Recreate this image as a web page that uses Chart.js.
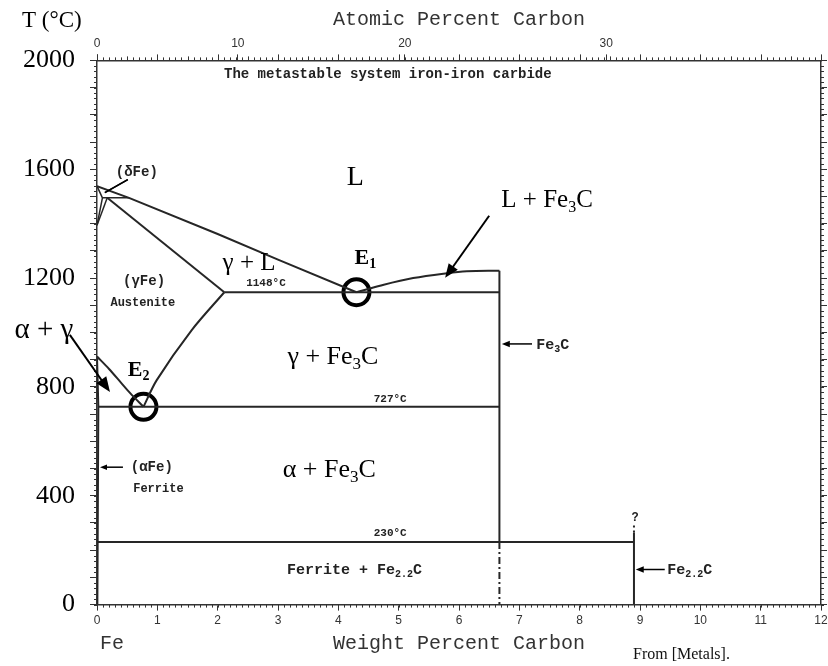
<!DOCTYPE html>
<html>
<head>
<meta charset="utf-8">
<script src="https://cdn.jsdelivr.net/npm/chart.js"></script>
<style>
  body { margin: 0; background: #fff; }
</style>
</head>
<body>
<canvas id="myChart" width="828" height="666"></canvas>
<script>
// Fe - Fe3C metastable phase diagram (wt% C vs temperature)
var weightTicks = [0, 1, 2, 3, 4, 5, 6, 7, 8, 9, 10, 11, 12];
var atomicTicks = [0, 10, 20, 30];
var tempTicks = [0, 400, 800, 1200, 1600, 2000];

// boundaries: carbon wt% and T in degC
var liquidusC = [0, 0.53, 2.0, 3.0, 4.3];
var liquidusT = [1538, 1495, 1362, 1268, 1148];
var cementiteLiqC = [4.3, 4.69, 5.24, 5.8, 6.13, 6.67];
var cementiteLiqT = [1148, 1172, 1200, 1218, 1225, 1227];
var solidusC = [0.17, 2.11];
var solidusT = [1495, 1148];
var acmC = [2.11, 1.57, 0.99, 0.77];
var acmT = [1148, 1009, 825, 727];
var a3C = [0, 0.2, 0.4, 0.55, 0.77];
var a3T = [912, 866, 815, 777, 727];
var alphaC = [0, 0.022, 0.006];
var alphaT = [912, 727, 0];
var deltaC = [0, 0.09, 0];
var deltaT = [1538, 1495, 1394];
var deltaGammaC = [0, 0.17];
var deltaGammaT = [1394, 1495];
var peritecticC = [0.09, 0.53];
var peritecticT = [1495, 1495];
var eutecticC = [2.11, 6.67];
var eutecticT = [1148, 1148];
var eutectoidC = [0.022, 6.67];
var eutectoidT = [727, 727];
var line230C = [0, 8.9];
var line230T = [230, 230];
var fe3cC = [6.67, 6.67];
var fe3cT = [1227, 230];
var fe3cLowC = [6.67, 6.67];
var fe3cLowT = [230, 0];
var fe22cC = [8.9, 8.9];
var fe22cT = [0, 265];
var fe22cTopC = [8.9, 8.9];
var fe22cTopT = [265, 292];
var eutecticPointsC = [4.3, 0.77];
var eutecticPointsT = [1148, 727];

function atToWt(a) {
  return a * 12.011 / (a * 12.011 + (100 - a) * 55.845) * 100;
}

function pts(xs, ys) {
  return xs.map(function (x, i) { return { x: x, y: ys[i] }; });
}

function line(xs, ys, extra) {
  var ds = {
    data: pts(xs, ys),
    showLine: true,
    borderColor: "#262626",
    borderWidth: 2,
    pointRadius: 0,
    fill: false,
    tension: 0
  };
  return Object.assign(ds, extra || {});
}

var SERIF = "'Liberation Serif', 'Times New Roman', serif";
var MONO = "'Liberation Mono', 'Courier New', monospace";
var SANS = "'Liberation Sans', Arial, sans-serif";

// text on the diagram: [parts, x(wt%), T, size, family, weight, align]
var labels = [
  [[["L", 0]], 4.28, 1569, 28, SERIF, "normal", "center"],
  [[["L + Fe", 0], ["3", 1], ["C", 0]], 7.46, 1484, 25, SERIF, "normal", "center"],
  [[["E", 0], ["1", 1]], 4.27, 1272, 22, SERIF, "bold", "left"],
  [[["E", 0], ["2", 1]], 0.51, 862, 22, SERIF, "bold", "left"],
  [[["γ + L", 0]], 2.52, 1252, 25, SERIF, "normal", "center"],
  [[["1148°C", 0]], 2.8, 1180, 11, MONO, "bold", "center"],
  [[["(γFe)", 0]], 0.78, 1186, 14, MONO, "bold", "center"],
  [[["Austenite", 0]], 0.76, 1109, 12, MONO, "bold", "center"],
  [[["(δFe)", 0]], 0.66, 1587, 14, MONO, "bold", "center"],
  [[["γ + Fe", 0], ["3", 1], ["C", 0]], 3.91, 910, 26, SERIF, "normal", "center"],
  [[["727°C", 0]], 4.86, 755, 11, MONO, "bold", "center"],
  [[["α + Fe", 0], ["3", 1], ["C", 0]], 3.85, 494, 26, SERIF, "normal", "center"],
  [[["(αFe)", 0]], 0.56, 505, 14, MONO, "bold", "left"],
  [[["Ferrite", 0]], 0.6, 424, 12, MONO, "bold", "left"],
  [[["230°C", 0]], 4.86, 262, 11, MONO, "bold", "center"],
  [[["Ferrite + Fe", 0], ["2.2", 1], ["C", 0]], 3.15, 125, 15, MONO, "bold", "left"],
  [[["Fe", 0], ["3", 1], ["C", 0]], 7.28, 954, 15, MONO, "bold", "left"],
  [[["Fe", 0], ["2.2", 1], ["C", 0]], 9.45, 125, 15, MONO, "bold", "left"],
  [[["?", 0]], 8.92, 317, 12, MONO, "bold", "center"],
  [[["The metastable system iron-iron carbide", 0]], 4.82, 1950, 14, MONO, "bold", "center"],
  [[["α + γ", 0]], -0.88, 1009, 29, SERIF, "normal", "center"]
];

// arrows: tail x, tail T, head x, head T, head size
var arrows = [
  [6.5, 1429, 5.77, 1201, 14],
  [-0.45, 991, 0.215, 781, 15],
  [7.21, 958, 6.71, 958, 8],
  [0.43, 505, 0.05, 505, 7],
  [9.41, 129, 8.93, 129, 8],
  [0.51, 1562, 0.13, 1514, 0]
];

function drawRich(ctx, parts, x, y, size, family, weight, align) {
  var subSize = Math.round(size * 0.65);
  var w = 0;
  parts.forEach(function (p) {
    ctx.font = weight + " " + (p[1] ? subSize : size) + "px " + family;
    w += ctx.measureText(p[0]).width;
  });
  var cx = align === "center" ? x - w / 2 : x;
  ctx.textBaseline = "middle";
  ctx.textAlign = "left";
  parts.forEach(function (p) {
    ctx.font = weight + " " + (p[1] ? subSize : size) + "px " + family;
    ctx.fillText(p[0], cx, p[1] ? y + size * 0.28 : y);
    cx += ctx.measureText(p[0]).width;
  });
}

var overlay = {
  id: "overlay",
  beforeDraw: function (chart) {
    var ctx = chart.ctx;
    ctx.save();
    ctx.fillStyle = "#fff";
    ctx.fillRect(0, 0, chart.width, chart.height);
    ctx.restore();
  },
  afterDraw: function (chart) {
    var ctx = chart.ctx;
    var xs = chart.scales.x, ys = chart.scales.y;
    var a = chart.chartArea;
    var px = function (v) { return xs.getPixelForValue(v); };
    var py = function (v) { return ys.getPixelForValue(v); };
    ctx.save();
    // minor ticks
    ctx.strokeStyle = "#333";
    ctx.lineWidth = 1;
    ctx.beginPath();
    for (var i = 0; i <= 120; i++) {
      var xx = Math.round(px(i / 10)) + 0.5;
      var len = i % 10 === 0 ? 6 : (i % 5 === 0 ? 4 : 3);
      ctx.moveTo(xx, a.bottom); ctx.lineTo(xx, a.bottom + 3);
      ctx.moveTo(xx, a.top); ctx.lineTo(xx, a.top - len);
    }
    for (var t = 0; t <= 2000; t += 20) {
      var yy = Math.round(py(t)) + 0.5;
      ctx.moveTo(a.left, yy); ctx.lineTo(a.left - 3, yy);
      ctx.moveTo(a.right, yy); ctx.lineTo(a.right + 3, yy);
    }
    ctx.stroke();

    // arrows
    ctx.strokeStyle = "#000";
    ctx.fillStyle = "#000";
    arrows.forEach(function (ar) {
      var x1 = px(ar[0]), y1 = py(ar[1]), x2 = px(ar[2]), y2 = py(ar[3]);
      var ang = Math.atan2(y2 - y1, x2 - x1);
      var hs = ar[4];
      ctx.lineWidth = hs > 10 ? 2 : 1.5;
      ctx.beginPath();
      ctx.moveTo(x1, y1);
      ctx.lineTo(x2 - Math.cos(ang) * hs * 0.6, y2 - Math.sin(ang) * hs * 0.6);
      ctx.stroke();
      if (hs > 0) {
        ctx.beginPath();
        ctx.moveTo(x2, y2);
        ctx.lineTo(x2 - hs * Math.cos(ang) + hs * 0.4 * Math.sin(ang), y2 - hs * Math.sin(ang) - hs * 0.4 * Math.cos(ang));
        ctx.lineTo(x2 - hs * Math.cos(ang) - hs * 0.4 * Math.sin(ang), y2 - hs * Math.sin(ang) + hs * 0.4 * Math.cos(ang));
        ctx.closePath();
        ctx.fill();
      } else {
        ctx.beginPath();
        ctx.moveTo(x1, y1);
        ctx.lineTo(x2, y2);
        ctx.stroke();
      }
    });

    // labels
    labels.forEach(function (l) {
      ctx.fillStyle = l[4] === MONO ? "#222" : "#000";
      drawRich(ctx, l[0], px(l[1]), py(l[2]), l[3], l[4], l[5], l[6]);
    });

    // texts outside the plot
    ctx.fillStyle = "#000";
    drawRich(ctx, [["T (°C)", 0]], 22, 21, 23, SERIF, "normal", "left");
    ctx.fillStyle = "#333";
    drawRich(ctx, [["Fe", 0]], a.left + 3, a.bottom + 39, 20, MONO, "normal", "left");
    ctx.fillStyle = "#111";
    drawRich(ctx, [["From [Metals].", 0]], 633, 655, 16, SERIF, "normal", "left");
    ctx.restore();
  }
};

function noSidePadding(axis) {
  axis.paddingLeft = 0;
  axis.paddingRight = 0;
}

var ctx = document.getElementById("myChart");
new Chart(ctx, {
  type: "scatter",
  data: {
    datasets: [
      line(liquidusC, liquidusT),
      line(cementiteLiqC, cementiteLiqT, { tension: 0.35 }),
      line(solidusC, solidusT),
      line(acmC, acmT, { tension: 0.3 }),
      line(a3C, a3T, { tension: 0.3 }),
      line(alphaC, alphaT),
      line(deltaC, deltaT, { borderWidth: 1.5 }),
      line(deltaGammaC, deltaGammaT, { borderWidth: 1.5 }),
      line(peritecticC, peritecticT, { borderWidth: 1.5 }),
      line(eutecticC, eutecticT),
      line(eutectoidC, eutectoidT),
      line(line230C, line230T),
      line(fe3cC, fe3cT),
      line(fe3cLowC, fe3cLowT, { borderDash: [7, 3, 2, 3] }),
      line(fe22cC, fe22cT),
      line(fe22cTopC, fe22cTopT, { borderDash: [2, 3] }),
      {
        data: pts(eutecticPointsC, eutecticPointsT),
        showLine: false,
        pointRadius: 13,
        pointBorderWidth: 4,
        pointBorderColor: "#000",
        pointBackgroundColor: "rgba(0,0,0,0)",
        clip: false
      }
    ]
  },
  options: {
    responsive: false,
    animation: false,
    layout: { autoPadding: false, padding: { top: 4, bottom: 6, left: 8, right: 1 } },
    plugins: {
      legend: { display: false },
      tooltip: { enabled: false }
    },
    scales: {
      x: {
        type: "linear",
        position: "bottom",
        min: 0,
        max: 12,
        afterBuildTicks: function (axis) {
          axis.ticks = weightTicks.map(function (v) { return { value: v }; });
        },
        afterFit: noSidePadding,
        ticks: { color: "#333", padding: 3, font: { family: SANS, size: 12 } },
        grid: { drawOnChartArea: false, tickLength: 6, color: "#333" },
        border: { display: true, color: "#333", width: 1.5 },
        title: {
          display: true,
          text: "Weight Percent Carbon",
          color: "#333",
          padding: { top: 1, bottom: 4 },
          font: { family: MONO, size: 20 }
        }
      },
      x2: {
        type: "linear",
        position: "top",
        min: 0,
        max: 12,
        afterBuildTicks: function (axis) {
          axis.ticks = atomicTicks.map(function (v) { return { value: atToWt(v) }; });
        },
        afterFit: noSidePadding,
        ticks: {
          color: "#333",
          padding: 4,
          font: { family: SANS, size: 12 },
          callback: function (v, i) { return atomicTicks[i]; }
        },
        grid: { drawOnChartArea: false, tickLength: 6, color: "#333" },
        border: { display: true, color: "#333", width: 1.5 },
        title: {
          display: true,
          text: "Atomic Percent Carbon",
          color: "#333",
          padding: { top: 4, bottom: 0 },
          font: { family: MONO, size: 20 }
        }
      },
      y: {
        type: "linear",
        position: "left",
        min: 0,
        max: 2000,
        afterBuildTicks: function (axis) {
          var tk = [];
          for (var v = 0; v <= 2000; v += 100) tk.push({ value: v });
          axis.ticks = tk;
        },
        ticks: {
          autoSkip: false,
          color: "#000",
          padding: 15,
          font: { family: SERIF, size: 26 },
          callback: function (v) { return tempTicks.indexOf(v) >= 0 ? String(v) : ""; }
        },
        grid: { drawOnChartArea: false, tickLength: 7, color: "#333" },
        border: { display: true, color: "#333", width: 1.5 }
      },
      y2: {
        type: "linear",
        position: "right",
        min: 0,
        max: 2000,
        afterBuildTicks: function (axis) {
          var tk = [];
          for (var v = 0; v <= 2000; v += 100) tk.push({ value: v });
          axis.ticks = tk;
        },
        ticks: { display: false },
        grid: { drawOnChartArea: false, tickLength: 6, color: "#333" },
        border: { display: true, color: "#333", width: 1.5 }
      }
    }
  },
  plugins: [overlay]
});
</script>
</body>
</html>
